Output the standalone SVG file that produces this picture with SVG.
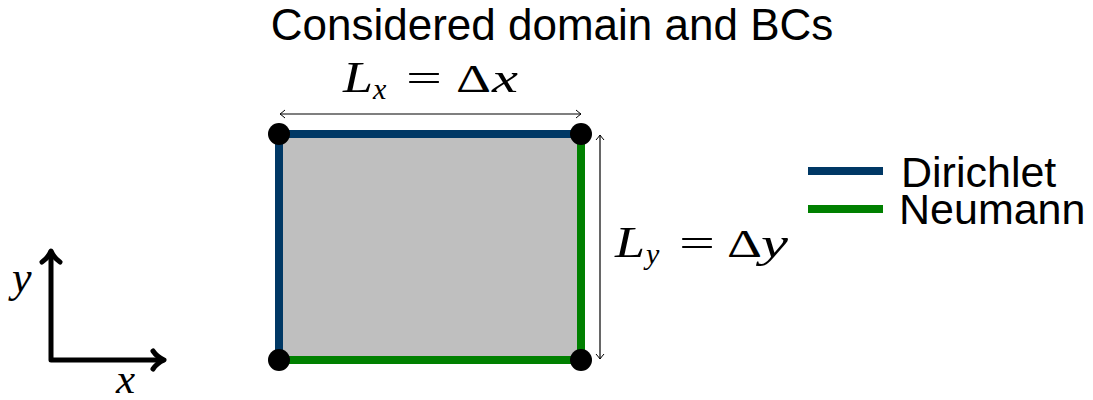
<svg xmlns="http://www.w3.org/2000/svg" width="1093" height="400" viewBox="0 0 1093 400">
<style>
.sans{font-family:"Liberation Sans",Arial,sans-serif;fill:#000}
.m{font-family:"Liberation Serif","Times New Roman",serif;fill:#000}
.mi{font-family:"Liberation Serif","Times New Roman",serif;font-style:italic;fill:#000}
.dir{stroke:#003865;stroke-width:8;fill:none}
.neu{stroke:#008000;stroke-width:8;fill:none}
.dim{stroke:#000;stroke-width:1.2;fill:none}
.axis{stroke:#000;stroke-width:5;fill:none;stroke-linecap:round;stroke-linejoin:round}
</style>
<defs>
<marker id="dimhead" viewBox="-6 -5 7 10" markerWidth="7" markerHeight="10" refX="0" refY="0" orient="auto-start-reverse" markerUnits="userSpaceOnUse">
<path d="M-5,-4 Q-1.5,-1 0,0 Q-1.5,1 -5,4" stroke="#000" stroke-width="1" fill="none"/>
</marker>
</defs>
<rect width="1093" height="400" fill="#fff"/>
<text class="sans" x="552" y="40" font-size="44" text-anchor="middle">Considered domain and BCs</text>

<g id="domain">
<rect x="279" y="134" width="302" height="226" fill="#bfbfbf"/>
<line class="dir" x1="279" y1="134" x2="581" y2="134"/>
<line class="dir" x1="279" y1="134" x2="279" y2="360"/>
<line class="neu" x1="581" y1="134" x2="581" y2="360"/>
<line class="neu" x1="279" y1="360" x2="581" y2="360"/>
<circle cx="279" cy="134" r="11" fill="#000"/>
<circle cx="581" cy="134" r="11" fill="#000"/>
<circle cx="279" cy="360" r="11" fill="#000"/>
<circle cx="581" cy="360" r="11" fill="#000"/>
</g>

<g id="connectors">
<line class="dim" x1="280" y1="114" x2="581" y2="114" marker-start="url(#dimhead)" marker-end="url(#dimhead)"/>
<line class="dim" x1="600" y1="135" x2="600" y2="359" marker-start="url(#dimhead)" marker-end="url(#dimhead)"/>
</g>

<g id="label-lx">
<text class="mi" x="343" y="92" font-size="44" textLength="30" lengthAdjust="spacingAndGlyphs">L</text>
<text class="mi" x="373" y="99" font-size="30">x</text>
<text class="m" x="406" y="92" font-size="40" textLength="36" lengthAdjust="spacingAndGlyphs">=</text>
<text class="m" x="456" y="92" font-size="40" textLength="35" lengthAdjust="spacingAndGlyphs">Δ</text>
<text class="mi" x="492" y="92" font-size="42" textLength="26" lengthAdjust="spacingAndGlyphs">x</text>
</g>

<g id="label-ly">
<text class="mi" x="615" y="257" font-size="44" textLength="30" lengthAdjust="spacingAndGlyphs">L</text>
<text class="mi" x="646" y="264" font-size="30">y</text>
<text class="m" x="679" y="257" font-size="40" textLength="36" lengthAdjust="spacingAndGlyphs">=</text>
<text class="m" x="727" y="257" font-size="40" textLength="35" lengthAdjust="spacingAndGlyphs">Δ</text>
<text class="mi" x="761" y="257" font-size="42" textLength="27" lengthAdjust="spacingAndGlyphs">y</text>
</g>

<g id="legend">
<line class="dir" x1="808" y1="171" x2="883" y2="171"/>
<line class="neu" x1="808" y1="209" x2="883" y2="209"/>
<text class="sans" x="901" y="187" font-size="43">Dirichlet</text>
<text class="sans" x="899" y="224" font-size="43">Neumann</text>
</g>

<g id="axes">
<path class="axis" d="M51,252 L51,360 L163,360"/>
<path class="axis" d="M42,262 Q48,258 51,251 Q54,258 60,262"/>
<path class="axis" d="M153,351 Q157,357 164,360 Q157,363 153,369"/>
<text class="mi" x="12" y="292" font-size="44">y</text>
<text class="mi" x="116" y="393" font-size="43">x</text>
</g>
</svg>
